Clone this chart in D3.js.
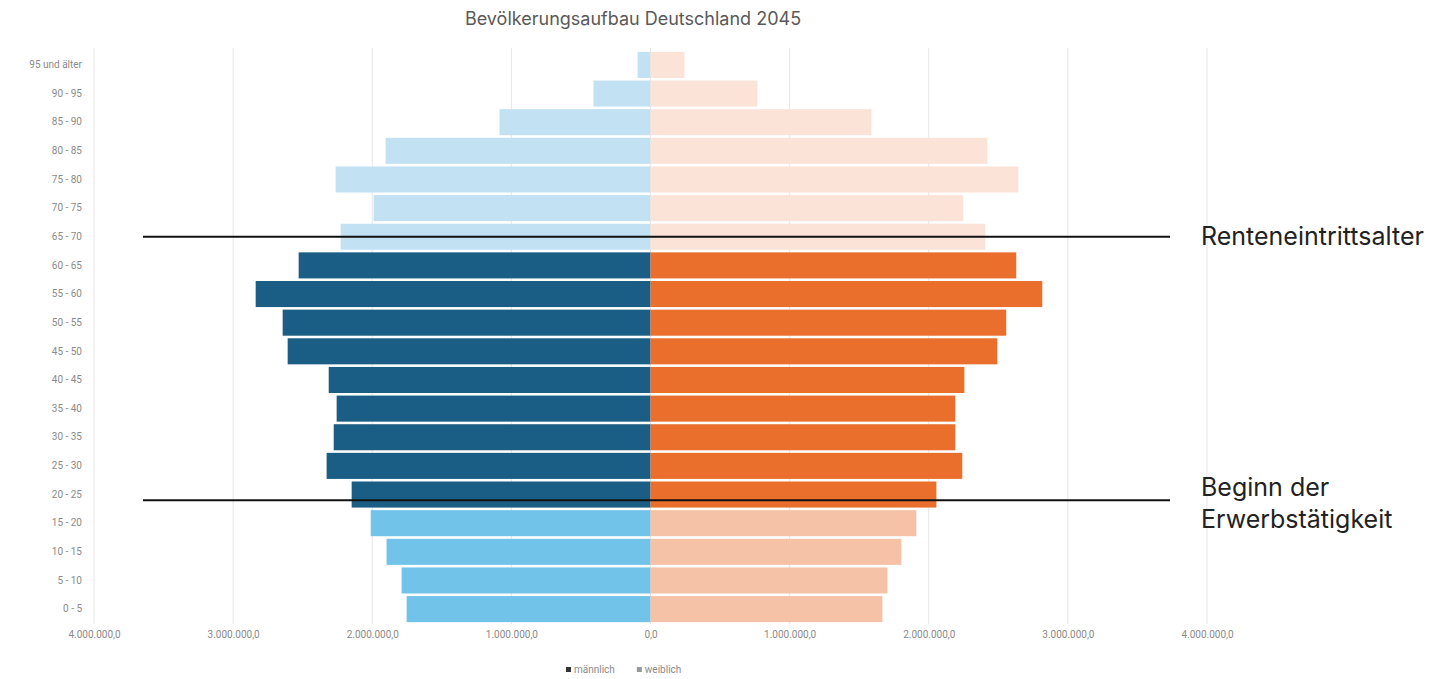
<!DOCTYPE html>
<html>
<head>
<meta charset="utf-8">
<script src="https://cdn.jsdelivr.net/npm/d3@7"></script>
<style>
  html, body { margin: 0; padding: 0; background: #fff; }
  svg { display: block; }
</style>
</head>
<body>
<svg id="chart"></svg>
<script>
// age groups, top to bottom
const ageGroups = ['95 und älter', '90 - 95', '85 - 90', '80 - 85', '75 - 80', '70 - 75', '65 - 70',
  '60 - 65', '55 - 60', '50 - 55', '45 - 50', '40 - 45', '35 - 40', '30 - 35', '25 - 30', '20 - 25',
  '15 - 20', '10 - 15', '5 - 10', '0 - 5'];
// männlich / weiblich population (persons)
const maennlich = [93000, 410000, 1085000, 1904000, 2263000, 1990000, 2227000,
  2529000, 2838000, 2644000, 2608000, 2313000, 2256000, 2277000, 2328000, 2148000,
  2011000, 1897000, 1789000, 1753000];
const weiblich = [244000, 769000, 1588000, 2421000, 2644000, 2249000, 2407000,
  2629000, 2816000, 2557000, 2493000, 2256000, 2191000, 2191000, 2241000, 2055000,
  1911000, 1803000, 1703000, 1667000];
const xTicks = [-4000000, -3000000, -2000000, -1000000, 0, 1000000, 2000000, 3000000, 4000000];
const seriesNames = ['männlich', 'weiblich'];

const width = 1445, height = 679;
const svg = d3.select('#chart').attr('width', width).attr('height', height);

const x = d3.scaleLinear().domain([-4000000, 4000000]).range([94, 1207]);
const y = d3.scaleBand().domain(ageGroups).range([51, 623]).paddingInner(0.09).paddingOuter(0.03);

// grouping by age for colours
function phase(i) {
  if (i <= ageGroups.indexOf('65 - 70')) return 'old';
  if (i <= ageGroups.indexOf('20 - 25')) return 'work';
  return 'young';
}
const maleColor = { old: '#c2e2f4', work: '#1b5e85', young: '#72c3e9' };
const femaleColor = { old: '#fbe3d8', work: '#ea6f2d', young: '#f5c1a7' };

const fmt = v => d3.format(',.1f')(Math.abs(v)).replace(/,/g, '#').replace('.', ',').replace(/#/g, '.');

// title
svg.append('text')
  .attr('x', 633).attr('y', 25)
  .attr('text-anchor', 'middle')
  .style('font-family', 'Inter, "Noto Sans", sans-serif')
  .style('font-size', '18px')
  .style('fill', '#595959')
  .text('Bevölkerungsaufbau Deutschland 2045');

// grid
svg.append('g').attr('class', 'grid')
  .selectAll('line').data(xTicks).enter().append('line')
  .attr('x1', d => x(d)).attr('x2', d => x(d))
  .attr('y1', 48).attr('y2', 624)
  .style('stroke', '#e6e6e6').style('stroke-width', 1);

// x axis labels
const xAxis = svg.append('g')
  .attr('transform', `translate(0, ${623})`)
  .call(d3.axisBottom(x).tickValues(xTicks).tickFormat(fmt).tickSize(0).tickPadding(8));
xAxis.select('.domain').remove();
xAxis.selectAll('text')
  .style('font-family', '"Liberation Sans Narrow", "Roboto", sans-serif')
  .style('font-size', '10px')
  .style('fill', '#8a8a8a');

// y axis labels
const yAxis = svg.append('g')
  .attr('transform', `translate(${86}, 0)`)
  .call(d3.axisLeft(y).tickSize(0).tickPadding(4));
yAxis.select('.domain').remove();
yAxis.selectAll('text')
  .style('font-family', '"Liberation Sans Narrow", "Roboto", sans-serif')
  .style('font-size', '10px')
  .style('fill', '#8a8a8a');

// bars
const bars = svg.append('g').attr('class', 'bars');
bars.selectAll('rect.m')
  .data(maennlich)
  .enter().append('rect')
  .attr('class', 'm')
  .attr('x', d => x(-d))
  .attr('y', (d, i) => y(ageGroups[i]))
  .attr('width', d => x(0) - x(-d))
  .attr('height', y.bandwidth())
  .style('fill', (d, i) => maleColor[phase(i)]);
bars.selectAll('rect.w')
  .data(weiblich)
  .enter().append('rect')
  .attr('class', 'w')
  .attr('x', x(0))
  .attr('y', (d, i) => y(ageGroups[i]))
  .attr('width', d => x(d) - x(0))
  .attr('height', y.bandwidth())
  .style('fill', (d, i) => femaleColor[phase(i)]);

// annotation lines
const marks = [
  { y: y('65 - 70') + y.bandwidth() * 0.5, dy: 8, lines: ['Renteneintrittsalter'] },
  { y: y('20 - 25') + y.bandwidth() * 0.72, dy: -4, lines: ['Beginn der', 'Erwerbstätigkeit'] }
];
const ann = svg.append('g').attr('class', 'annotations');
marks.forEach(m => {
  ann.append('line')
    .attr('x1', 143).attr('x2', 1170)
    .attr('y1', m.y).attr('y2', m.y)
    .style('stroke', '#111').style('stroke-width', 2);
  const t = ann.append('text')
    .attr('x', 1201)
    .attr('y', m.y + m.dy)
    .style('font-family', 'Inter, "Noto Sans", sans-serif')
    .style('font-size', '25px')
    .style('fill', '#222');
  m.lines.forEach((l, j) => {
    t.append('tspan').attr('x', 1201).attr('dy', j === 0 ? 0 : 32).text(l);
  });
});

// legend
const legend = svg.append('g').attr('transform', 'translate(566, 673)');
let lx = 0;
seriesNames.forEach((s, i) => {
  legend.append('rect').attr('x', lx).attr('y', -6).attr('width', 5).attr('height', 5)
    .style('fill', i === 0 ? '#333' : '#999');
  const t = legend.append('text').attr('x', lx + 8).attr('y', 0)
    .style('font-family', '"Liberation Sans Narrow", "Roboto", sans-serif')
    .style('font-size', '10px').style('fill', '#8a8a8a').text(s);
  lx += t.node().getComputedTextLength() + 30;
});
</script>
</body>
</html>
